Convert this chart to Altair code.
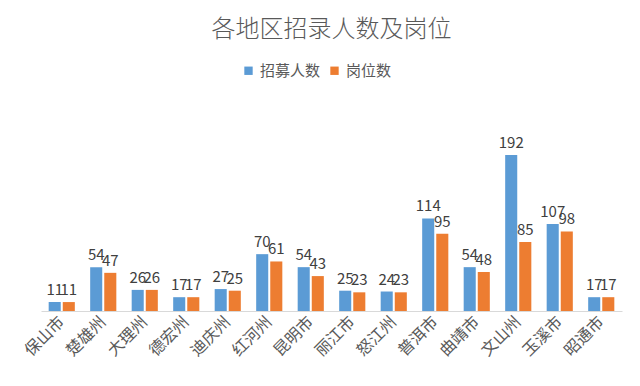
import altair as alt
import pandas as pd

regions = ["保山市", "楚雄州", "大理州", "德宏州", "迪庆州", "红河州", "昆明市",
           "丽江市", "怒江州", "普洱市", "曲靖市", "文山州", "玉溪市", "昭通市"]
recruit = [11, 54, 26, 17, 27, 70, 54, 25, 24, 114, 54, 192, 107, 17]
posts = [11, 47, 26, 17, 25, 61, 43, 23, 23, 95, 48, 85, 98, 17]
series = ["招募人数", "岗位数"]

rows = []
for r, a, b in zip(regions, recruit, posts):
    rows.append({"region": r, "series": series[0], "value": a})
    rows.append({"region": r, "series": series[1], "value": b})
df = pd.DataFrame(rows)

FONT = "Noto Sans CJK SC"

x = alt.X("region:N", sort=regions, title=None,
          scale=alt.Scale(paddingInner=0.37, paddingOuter=0.185),
          axis=alt.Axis(labelAngle=-45, labelAlign="right", labelBaseline="middle",
                        labelFontSize=16, labelColor="#595959", labelFont=FONT,
                        ticks=False, domainColor="#D9D9D9", labelPadding=8))
xoff = alt.XOffset("series:N", sort=series,
                   scale=alt.Scale(paddingInner=0.143, paddingOuter=0))
y = alt.Y("value:Q", scale=alt.Scale(domain=[0, 250]), axis=None)

bars = alt.Chart(df).mark_bar().encode(
    x=x, xOffset=xoff, y=y,
    color=alt.Color("series:N", sort=series,
                    scale=alt.Scale(domain=series, range=["#5B9BD5", "#ED7D31"]),
                    legend=alt.Legend(title=None, orient="none", direction="horizontal",
                                      legendX=200, legendY=-45, labelFontSize=15,
                                      labelFont=FONT, labelColor="#595959",
                                      symbolType="square", symbolSize=70,
                                      columnPadding=6, labelOffset=4))
)

labels = alt.Chart(df).mark_text(dy=-12, fontSize=15, color="#404040", font=FONT).encode(
    x=x, xOffset=xoff, y=y, text="value:Q"
)

chart = (bars + labels).properties(
    width=581, height=203,
    background="white",
    title=alt.TitleParams("各地区招录人数及岗位", anchor="middle", fontSize=24,
                          font=FONT, fontWeight=300, color="#595959", offset=21),
    autosize=alt.AutoSizeParams(type="none"),
    padding={"left": 33, "top": 100, "right": 10, "bottom": 70},
).configure_view(strokeWidth=0, stroke="transparent")

chart.save("out.html", embed_options={"renderer": "svg", "actions": False})
